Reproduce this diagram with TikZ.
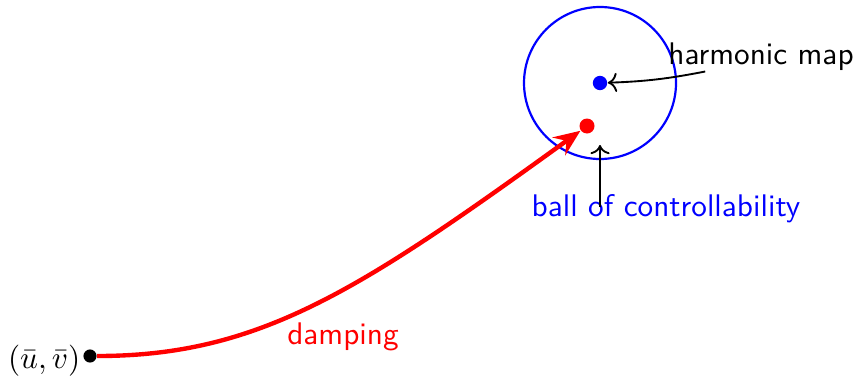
\documentclass[tikz,border=0pt]{standalone}
\usepackage{amsmath, amssymb}
\usepackage{xcolor}
\usetikzlibrary{arrows.meta}

\tikzset{
  dot/.style={circle, inner sep=0pt, minimum size=#1},
  lbl/.style={inner sep=0pt, font=\sffamily}
}

\begin{document}
\begin{tikzpicture}[x=0.32pt, y=-0.32pt]
  \useasboundingbox (0,0) rectangle (856,379);
  % ball round the harmonic map
  \draw[blue, line width=0.7pt] (600,83) circle (76);
  \node[dot=4.6pt, fill=blue] (center) at (600,83) {};
  \node[dot=4.8pt, fill=red] (goal) at (587,126) {};
  \node[dot=4.2pt, fill=black] (start) at (90,356) {};
  \coordinate (inside) at (600,145);
  % labels
  \node[inner sep=0pt, anchor=east] (uv) at (81,361) {$(\bar{u},\bar{v})$};
  \node[lbl, red] (damp) at (343,337) {damping};
  \node[lbl] (hm) at (761,57) {harmonic map};
  \node[lbl, blue] (ball) at (666,209) {ball of controllability};
  % arrows
  \draw[red, line width=1.4pt, -{Stealth[length=8.5pt, width=7pt, inset=3pt]}]
       (start) .. controls +(170,0) and +(-227,164) .. (goal);
  \draw[->, semithick] ([xshift=12pt]hm.south west) to[out=191, in=2] (center);
  \draw[->, semithick] ([yshift=-4pt]ball.north -| inside) -- (inside);
\end{tikzpicture}
\end{document}
